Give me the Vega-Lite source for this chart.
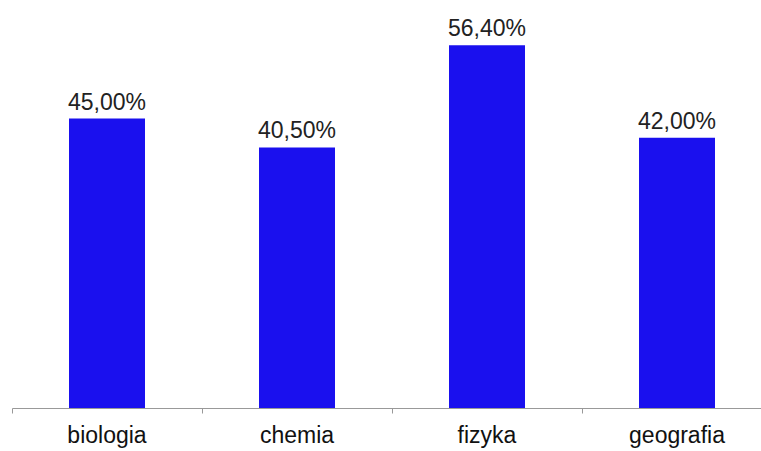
{
  "$schema": "https://vega.github.io/schema/vega-lite/v6.json",
  "autosize": "none",
  "width": 760,
  "height": 386,
  "padding": {"left": 12, "top": 22, "right": 0, "bottom": 43},
  "background": "white",
  "config": {"view": {"stroke": null}, "font": "Liberation Sans"},
  "data": {"values": [
    {"subject": "biologia", "value": 45.0, "label": "45,00%"},
    {"subject": "chemia", "value": 40.5, "label": "40,50%"},
    {"subject": "fizyka", "value": 56.4, "label": "56,40%"},
    {"subject": "geografia", "value": 42.0, "label": "42,00%"}
  ]},
  "encoding": {
    "x": {"field": "subject", "type": "nominal", "sort": null,
          "scale": {"paddingInner": 0, "paddingOuter": 0}},
    "y": {"field": "value", "type": "quantitative", "scale": {"domain": [0, 60], "nice": false}, "axis": null}
  },
  "layer": [
    {
      "mark": {"type": "bar", "color": "#1a10ee", "width": {"band": 0.4}},
      "encoding": {
        "x": {"field": "subject", "type": "nominal", "sort": null,
              "axis": {"orient": "bottom", "title": null, "labels": false, "bandPosition": 0, "tickSize": 5, "tickColor": "#999999", "domainColor": "#999999", "tickWidth": 1, "domainWidth": 1}}
      }
    },
    {
      "mark": {"type": "text", "baseline": "alphabetic", "dy": -9, "fontSize": 23, "color": "#222222"},
      "encoding": {
        "x": {"field": "subject", "type": "nominal", "sort": null,
              "axis": {"orient": "bottom", "title": null, "domain": false, "ticks": false, "labelAngle": 0, "labelFontSize": 23, "labelColor": "#111111", "labelPadding": 16, "labelFont": "Liberation Sans"}},
        "text": {"field": "label"}
      }
    }
  ],
  "resolve": {"axis": {"x": "independent"}}
}
